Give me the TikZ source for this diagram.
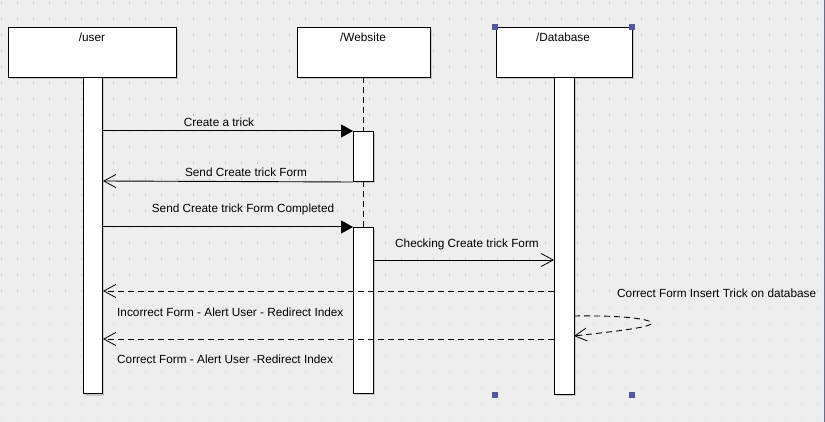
\documentclass[tikz,border=0pt]{standalone}
\usepackage{fontspec}
\setmainfont{Liberation Sans}
\usetikzlibrary{arrows.meta}
\definecolor{bgc}{HTML}{EEEEEE}
\definecolor{dotc}{HTML}{C4C4C4}
\definecolor{shadowc}{HTML}{C8C8C8}
\definecolor{handlec}{HTML}{5555A8}
\tikzset{
  lbl/.style={font=\fontsize{11.8}{13}\selectfont, inner sep=0pt},
  objbox/.style={draw=black, fill=white, line width=1pt},
  barbox/.style={draw=black, fill=white, line width=1pt},
  shadowbox/.style={fill=shadowc, draw=none},
  msgfill/.style={line width=1pt, -{Triangle[length=12pt,width=13pt]}},
  msgopen/.style={line width=0.9pt, -{Straight Barb[length=12pt,width=13pt,line width=0.8pt]}},
  msgdash/.style={line width=0.9pt, dash pattern=on 6pt off 4pt, -{Straight Barb[length=12pt,width=13pt,line width=0.8pt,sep=0pt]}},
  lifedash/.style={line width=1pt, dash pattern=on 6pt off 4pt},
  handle/.style={fill=handlec, draw=none, minimum size=6pt, inner sep=0pt}
}
\begin{document}
\begin{tikzpicture}[x=1pt,y=-1pt]
\useasboundingbox (0,0) rectangle (825,422);
\fill[bgc] (0,0) rectangle (825,422);
\foreach \i in {0,...,51} {\foreach \j in {0,...,26} {
  \fill[dotc] ({16*\i+0.5},{16*\j+2.5}) rectangle ({16*\i+1.7},{16*\j+3.7});
}}
\draw[color=handlec!50!gray, line width=1pt] (824.5,0) -- (824.5,422);

% shadows
\fill[shadowc] (10,29) rectangle (178,79);
\fill[shadowc] (299,29) rectangle (432,79);
\fill[shadowc] (498,29) rectangle (634,79);
\fill[shadowc] (85,79) rectangle (104,396);
\fill[shadowc] (355,133) rectangle (375,183);
\fill[shadowc] (355,229) rectangle (375,395);
\fill[shadowc] (556,79) rectangle (576,396);

% lifeline of website
\coordinate (wtop) at (363,77);
\coordinate (wa1top) at (363,131);
\coordinate (wa1bot) at (363,181);
\coordinate (wa2top) at (363,227);
\draw[lifedash] (wtop) -- (wa1top);
\draw[lifedash] (wa1bot) -- (wa2top);

% object boxes
\node[objbox, minimum width=168pt, minimum height=50pt, anchor=north west] (user) at (8,27) {};
\node[objbox, minimum width=133pt, minimum height=50pt, anchor=north west] (web) at (297,27) {};
\node[objbox, minimum width=136pt, minimum height=50pt, anchor=north west] (db) at (496,27) {};
\node[lbl] (userl) at (92,37) {/user};
\node[lbl] (webl) at (363,37) {/Website};
\node[lbl] (dbl) at (563,37) {/Database};

% bars
\node[barbox, minimum width=19pt, minimum height=316pt, anchor=north west] (ubar) at (83,77) {};
\node[barbox, minimum width=20pt, minimum height=50pt, anchor=north west] (wact1) at (353,131) {};
\node[barbox, minimum width=20pt, minimum height=166pt, anchor=north west] (wact2) at (353,227) {};
\node[barbox, minimum width=20pt, minimum height=317pt, anchor=north west] (dbar) at (554,77) {};

% handles
\node[handle] (h1) at (495,27) {};
\node[handle] (h2) at (632,27) {};
\node[handle] (h3) at (495,395) {};
\node[handle] (h4) at (632,395) {};

% messages
\draw[msgfill] (ubar.east |- 0,131) -- (wact1.north west);
\node[lbl] (m1) at (219,122) {Create a trick};

\draw[msgopen] (wact1.south west) -- (ubar.east |- 0,181);
\node[lbl] (m2) at (246,172) {Send Create trick Form};

\draw[msgfill] (ubar.east |- 0,227) -- (wact2.north west);
\node[lbl] (m3) at (243,209) {Send Create trick Form Completed};

\draw[msgopen] (wact2.east |- 0,260) -- (dbar.west |- 0,260);
\node[lbl] (m4) at (467,244) {Checking Create trick Form};

\draw[msgdash] (dbar.west |- 0,291) -- (ubar.east |- 0,291);
\node[lbl, anchor=west] (m5) at (117,312) {Incorrect Form - Alert User - Redirect Index};

\draw[msgdash] (dbar.west |- 0,339) -- (ubar.east |- 0,339);
\node[lbl, anchor=west] (m6) at (117,359) {Correct Form - Alert User -Redirect Index};

\coordinate (s1) at (574,316);
\coordinate (s2) at (574,336);
\draw[msgdash] (s1) .. controls (640,315) and (660,322) .. (649,325) .. controls (640,329) and (600,333) .. (s2);
\node[lbl, anchor=west] (m7) at (617,293) {Correct Form Insert Trick on database};
\end{tikzpicture}
\end{document}
